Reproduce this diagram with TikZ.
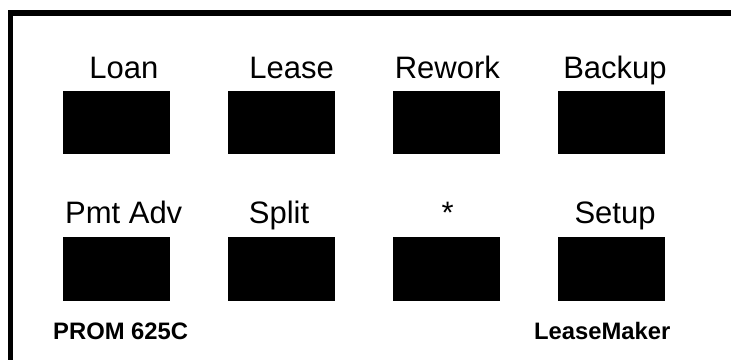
\documentclass[tikz,border=0pt]{standalone}
\usepackage{fontspec}
\setmainfont{Liberation Sans}
\usepackage{tikz}

\begin{document}
\begin{tikzpicture}[
  x=1pt, y=-1pt,
  keybox/.style={fill=black, draw=none, inner sep=0pt,
    minimum width=106.7pt, minimum height=63.5pt},
  keylabel/.style={anchor=base, inner sep=0pt,
    font=\fontsize{31}{36}\selectfont},
  tag/.style={anchor=base, inner sep=0pt,
    font=\bfseries\fontsize{23.8}{28}\selectfont}
]
  \useasboundingbox (0,0) rectangle (731,360);
  % frame
  \draw[line width=4.5pt] (10.3,10) -- (10.3,360);
  \draw[line width=6pt] (8,13) -- (731,13);
  % upper row
  \node[keybox] (loan) at (116.7,122.7) {};
  \node[keybox] (lease) at (281.7,122.7) {};
  \node[keybox] (rework) at (446.7,122.7) {};
  \node[keybox] (backup) at (611.7,122.7) {};
  \node[keylabel] (loanlbl) at (123.8,78.3) {Loan};
  \node[keylabel] (leaselbl) at (291.7,78.3) {Lease};
  \node[keylabel] (reworklbl) at (447.3,78.3) {Rework};
  \node[keylabel] (backuplbl) at (615,78.3) {Backup};
  % lower row
  \node[keybox] (pmtadv) at (116.7,269.2) {};
  \node[keybox] (split) at (281.7,269.2) {};
  \node[keybox] (star) at (446.7,269.2) {};
  \node[keybox] (setup) at (611.7,269.2) {};
  \node[keylabel] (pmtadvlbl) at (123.7,223.3) {Pmt Adv};
  \node[keylabel] (splitlbl) at (279,223.3) {Split};
  \node[keylabel] (starlbl) at (447.7,223.3) {*};
  \node[keylabel] (setuplbl) at (615,223.3) {Setup};
  % bottom tags
  \node[tag] (prom) at (120.7,339) {PROM 625C};
  \node[tag] (maker) at (602.2,339) {LeaseMaker};
\end{tikzpicture}
\end{document}
